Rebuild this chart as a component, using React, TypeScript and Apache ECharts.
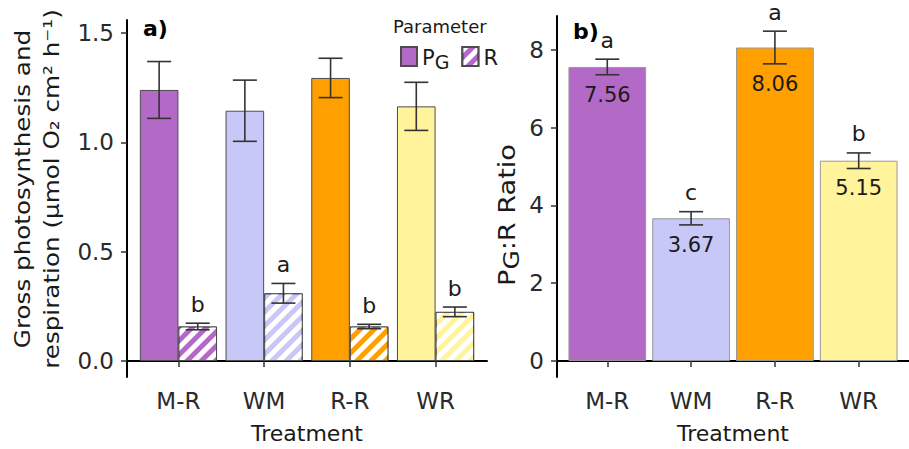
import React, { useEffect, useRef } from 'react';
import * as echarts from 'echarts';

const treatments = ['M-R', 'WM', 'R-R', 'WR'];
const fillColors = ['#B36AC7', '#C8C8F8', '#FFA000', '#FFF39B'];
const xPos = [1, 2, 3, 4];
const pgMean = [1.24, 1.145, 1.295, 1.165];
const pgSe = [0.13, 0.14, 0.09, 0.11];
const rMean = [0.158, 0.31, 0.158, 0.225];
const rSe = [0.015, 0.045, 0.01, 0.022];
const rLetters = ['b', 'a', 'b', 'b'];
const ratioMean = [7.56, 3.67, 8.06, 5.15];
const ratioSe = [0.2, 0.17, 0.42, 0.2];
const ratioLetters = ['a', 'c', 'a', 'b'];
const ratioLabels = ['7.56', '3.67', '8.06', '5.15'];
const yTicksA = [0, 0.5, 1.0, 1.5];
const yTicksB = [0, 2, 4, 6, 8];

const FONT = 'DejaVu Sans';
const DODGE = 0.225;

const decal = {
  symbol: 'rect',
  symbolSize: 1,
  color: '#ffffff',
  dashArrayX: [1, 0],
  dashArrayY: [4.5, 5],
  rotation: -Math.PI / 4,
};

function errorSeries(gridIdx: number, xs: number[], means: number[], ses: number[], above: string[] | null, below: string[] | null) {
  return {
    type: 'custom',
    xAxisIndex: gridIdx,
    yAxisIndex: gridIdx,
    z: 5,
    silent: true,
    data: xs.map((x, i) => [x, means[i], ses[i]]),
    renderItem: (params: any, api: any) => {
      const x = api.value(0);
      const m = api.value(1);
      const s = api.value(2);
      const top = api.coord([x, m + s]);
      const bot = api.coord([x, m - s]);
      const cap = 12;
      const ls = { stroke: '#333333', lineWidth: 1.6 };
      const children: any[] = [
        { type: 'line', shape: { x1: top[0], y1: top[1], x2: bot[0], y2: bot[1] }, style: ls },
        { type: 'line', shape: { x1: top[0] - cap, y1: top[1], x2: top[0] + cap, y2: top[1] }, style: ls },
        { type: 'line', shape: { x1: bot[0] - cap, y1: bot[1], x2: bot[0] + cap, y2: bot[1] }, style: ls },
      ];
      if (above) {
        children.push({
          type: 'text',
          x: top[0],
          y: top[1] - 19,
          style: { text: above[params.dataIndex], fontSize: 22, fontFamily: FONT, fill: '#1a1a1a', align: 'center', verticalAlign: 'middle' },
        });
      }
      if (below) {
        children.push({
          type: 'text',
          x: bot[0],
          y: bot[1] + 20,
          style: { text: below[params.dataIndex], fontSize: 21, fontFamily: FONT, fill: '#1a1a1a', align: 'center', verticalAlign: 'middle' },
        });
      }
      return { type: 'group', children };
    },
  };
}

export default function App() {
  const ref = useRef<HTMLDivElement>(null);
  useEffect(() => {
    document.body.style.margin = '0';
    const chart = echarts.init(ref.current!, null, { renderer: 'svg' });
    const axisLine = { show: true, lineStyle: { color: '#000', width: 2 } };
    const axisTick = (vals: number[]) => ({ show: true, length: 6, lineStyle: { color: '#333', width: 1.5 }, customValues: vals });
    const labelStyle = { fontSize: 23, fontFamily: FONT, color: '#2a2a2a' };
    const option: any = {
      animation: false,
      textStyle: { fontFamily: FONT },
      grid: [
        { left: 127, top: 20, width: 360, height: 358 },
        { left: 557, top: 16, width: 361, height: 361 },
      ],
      xAxis: [0, 1].map((g) => ({
        type: 'value',
        gridIndex: g,
        min: 0.4,
        max: 4.6,
        axisLine,
        axisTick: axisTick(xPos),
        splitLine: { show: false },
        axisLabel: { ...labelStyle, margin: 12, customValues: xPos, formatter: (v: number) => treatments[Math.round(v) - 1] },
        name: 'Treatment',
        nameLocation: 'middle',
        nameGap: 45,
        nameTextStyle: { fontSize: 22, fontFamily: FONT, color: '#1a1a1a' },
      })),
      yAxis: [
        {
          type: 'value', gridIndex: 0, min: -0.073, max: 1.56,
          axisLine, axisTick: axisTick(yTicksA), splitLine: { show: false },
          axisLabel: { ...labelStyle, margin: 13, customValues: yTicksA, formatter: (v: number) => v.toFixed(1) },
        },
        {
          type: 'value', gridIndex: 1, min: -0.41, max: 8.87,
          axisLine, axisTick: axisTick(yTicksB), splitLine: { show: false },
          axisLabel: { ...labelStyle, margin: 13, customValues: yTicksB, formatter: (v: number) => String(v) },
        },
      ],
      legend: {
        data: [{ name: 'PG', icon: 'rect' }, { name: 'R', icon: 'rect' }],
        left: 395,
        top: 41,
        itemWidth: 16,
        itemHeight: 19,
        itemGap: 12,
        selectedMode: false,
        formatter: (n: string) => (n === 'PG' ? '{p|P}{g|G}' : '{p|R}'),
        textStyle: {
          fontFamily: FONT,
          color: '#1a1a1a',
          rich: {
            p: { fontSize: 21, fontFamily: FONT, color: '#1a1a1a', verticalAlign: 'bottom', lineHeight: 24 },
            g: { fontSize: 19, fontFamily: FONT, color: '#1a1a1a', verticalAlign: 'bottom', lineHeight: 20, padding: [0, 0, -3, 0] },
          },
        },
      },
      graphic: [
        { type: 'text', left: 143, top: 17, style: { text: 'a)', fontSize: 22, fontWeight: 'bold', fontFamily: FONT, fill: '#000' } },
        { type: 'text', left: 573, top: 20, style: { text: 'b)', fontSize: 22, fontWeight: 'bold', fontFamily: FONT, fill: '#000' } },
        { type: 'text', left: 393, top: 17, style: { text: 'Parameter', fontSize: 18, fontFamily: FONT, fill: '#1a1a1a' } },
        {
          type: 'text', x: 37, y: 189, rotation: Math.PI / 2, scaleX: 1.12,
          style: {
            text: 'Gross photosynthesis and\nrespiration (µmol O₂ cm² h⁻¹)',
            fontSize: 22, fontFamily: FONT, fill: '#1a1a1a', align: 'center', verticalAlign: 'middle', lineHeight: 29,
          },
        },
        {
          type: 'text', x: 506, y: 215, rotation: Math.PI / 2, scaleX: 1.18,
          style: {
            text: '{p|P}{g|G}{p|:R Ratio}',
            align: 'center', verticalAlign: 'middle',
            rich: {
              p: { fontSize: 23, fontFamily: FONT, fill: '#1a1a1a', verticalAlign: 'bottom', lineHeight: 26 },
              g: { fontSize: 21, fontFamily: FONT, fill: '#1a1a1a', verticalAlign: 'bottom', lineHeight: 22, padding: [0, 0, -3, 0] },
            },
          },
        },
      ],
      series: [
        {
          name: 'PG', type: 'bar', xAxisIndex: 0, yAxisIndex: 0, barWidth: 38.6, barGap: '0%',
          itemStyle: { color: fillColors[0], borderColor: '#4d4d4d', borderWidth: 1 },
          data: xPos.map((x, i) => ({ value: [x, pgMean[i]], itemStyle: { color: fillColors[i] } })),
        },
        {
          name: 'R', type: 'bar', xAxisIndex: 0, yAxisIndex: 0, barWidth: 38.6, barGap: '0%',
          itemStyle: { color: fillColors[0], borderColor: '#4d4d4d', borderWidth: 1, decal },
          data: xPos.map((x, i) => ({ value: [x, rMean[i]], itemStyle: { color: fillColors[i], decal } })),
        },
        errorSeries(0, xPos.map((x) => x - DODGE), pgMean, pgSe, null, null),
        errorSeries(0, xPos.map((x) => x + DODGE), rMean, rSe, rLetters, null),
        {
          name: 'Ratio', type: 'bar', xAxisIndex: 1, yAxisIndex: 1, barWidth: 77.7,
          itemStyle: { borderColor: '#999999', borderWidth: 1 },
          data: xPos.map((x, i) => ({ value: [x, ratioMean[i]], itemStyle: { color: fillColors[i] } })),
        },
        errorSeries(1, xPos, ratioMean, ratioSe, ratioLetters, ratioLabels),
      ],
    };
    chart.setOption(option);
    return () => chart.dispose();
  }, []);
  return <div ref={ref} style={{ width: 909, height: 449 }} />;
}
